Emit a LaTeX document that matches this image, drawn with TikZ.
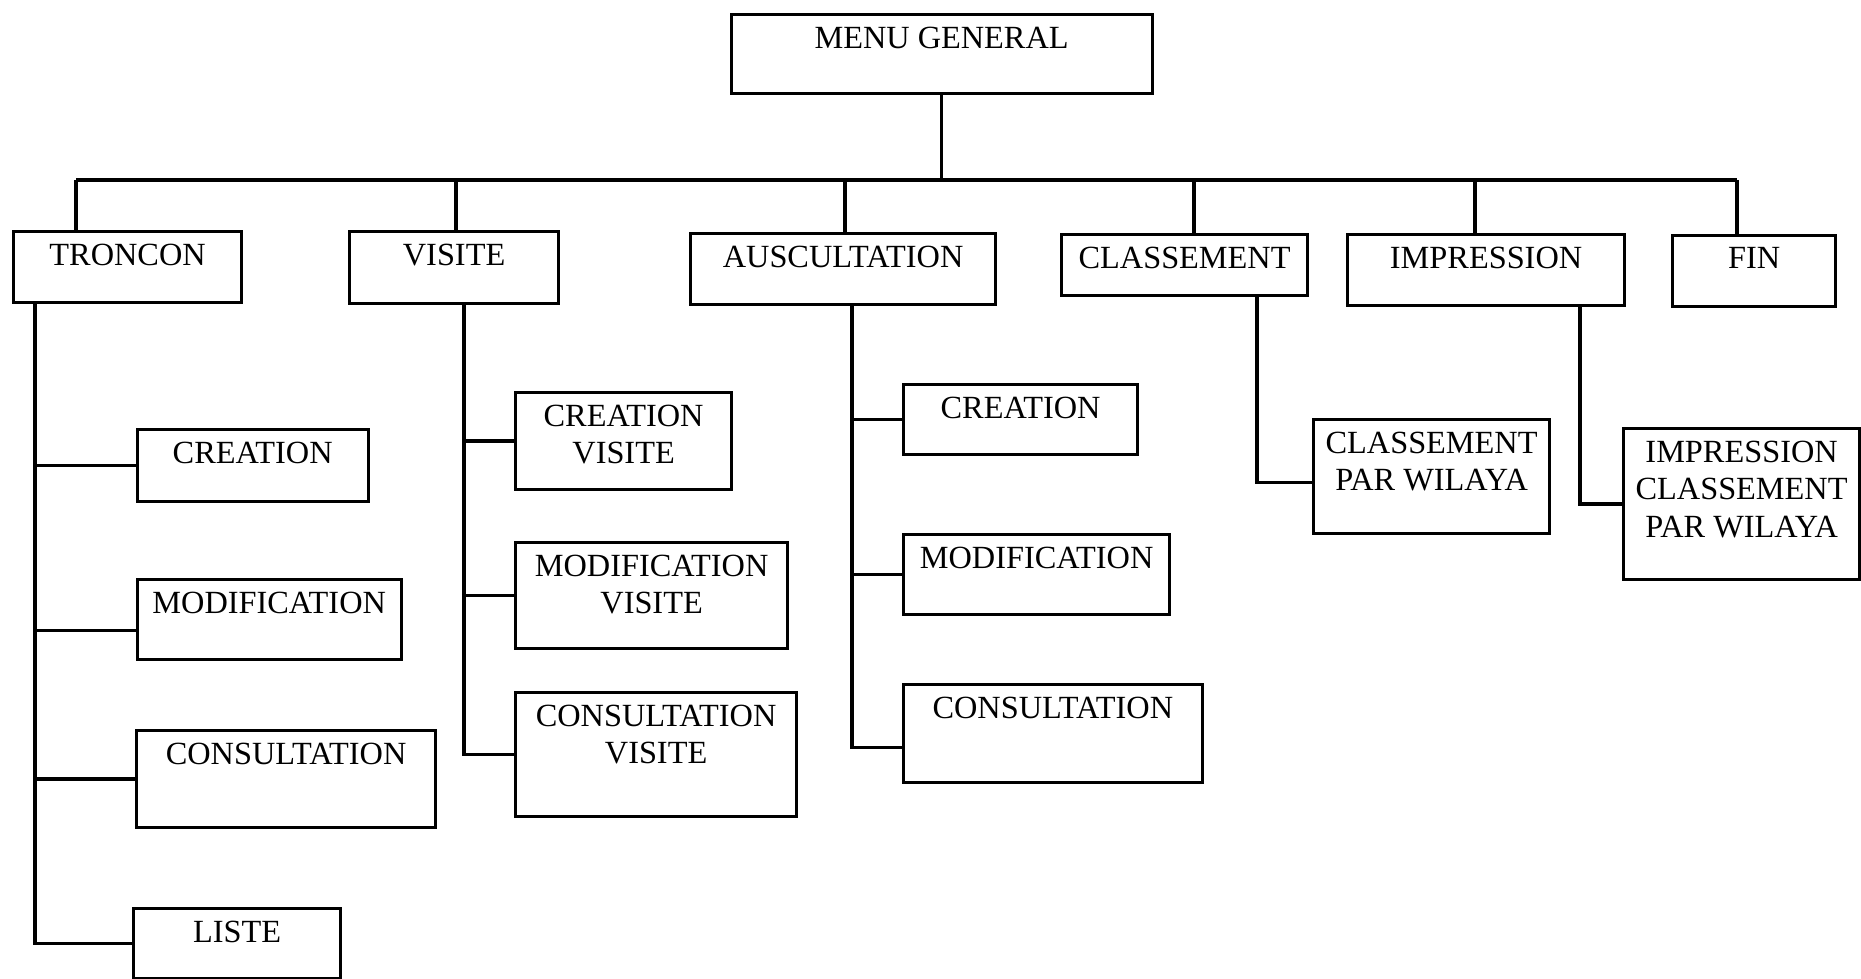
\documentclass[tikz,border=0pt]{standalone}
\usepackage{fontspec}
\setmainfont{Liberation Serif}
\usepackage{tikz}

\tikzset{
	boite/.style={draw, line width=0.9pt, anchor=north west, inner sep=0pt},
	txt/.style={anchor=north, align=center, inner sep=0pt, yshift=-1.3mm, font=\fontsize{9.2}{10.7}\selectfont},
	lien/.style={line width=0.9pt}
}

\begin{document}
\begin{tikzpicture}[x=0.1mm,y=-0.1mm]
	\useasboundingbox (0,0) rectangle (1861,979);
	% menu principal
	\node[boite, minimum width=42.1mm, minimum height=7.9mm, label={[txt]north:MENU GENERAL}] (menu) at (729.5,13) {};
	% premier niveau
	\node[boite, minimum width=22.8mm, minimum height=7.1mm, label={[txt]north:TRONCON}] (troncon) at (12,230) {};
	\node[boite, minimum width=20.9mm, minimum height=7.2mm, label={[txt]north:VISITE}] (visite) at (348,230) {};
	\node[boite, minimum width=30.5mm, minimum height=7.1mm, label={[txt]north:AUSCULTATION}] (auscultation) at (689,232) {};
	\node[boite, minimum width=24.6mm, minimum height=6.1mm, label={[txt]north:CLASSEMENT}] (classement) at (1060,233) {};
	\node[boite, minimum width=27.7mm, minimum height=7.1mm, label={[txt]north:IMPRESSION}] (impression) at (1346,233) {};
	\node[boite, minimum width=16.3mm, minimum height=7.1mm, label={[txt]north:FIN}] (fin) at (1671,234) {};
	% troncon
	\node[boite, minimum width=23.1mm, minimum height=7.2mm, label={[txt]north:CREATION}] (tcrea) at (135.6,428) {};
	\node[boite, minimum width=26.4mm, minimum height=8.0mm, label={[txt]north:MODIFICATION}] (tmodif) at (135.6,578) {};
	\node[boite, minimum width=29.9mm, minimum height=9.7mm, label={[txt]north:CONSULTATION}] (tcons) at (135,729) {};
	\node[boite, minimum width=20.7mm, minimum height=7.0mm, label={[txt]north:LISTE}] (tliste) at (132,907) {};
	% visite
	\node[boite, minimum width=21.6mm, minimum height=9.7mm, label={[txt]north:CREATION\\VISITE}] (vcrea) at (514,391) {};
	\node[boite, minimum width=27.2mm, minimum height=10.6mm, label={[txt]north:MODIFICATION\\VISITE}] (vmodif) at (514,541) {};
	\node[boite, minimum width=28.1mm, minimum height=12.4mm, label={[txt]north:CONSULTATION\\VISITE}] (vcons) at (514,691) {};
	% auscultation
	\node[boite, minimum width=23.4mm, minimum height=7.0mm, label={[txt]north:CREATION}] (acrea) at (902,383) {};
	\node[boite, minimum width=26.6mm, minimum height=8.0mm, label={[txt]north:MODIFICATION}] (amodif) at (902,533) {};
	\node[boite, minimum width=29.85mm, minimum height=9.8mm, label={[txt]north:CONSULTATION}] (acons) at (902,683) {};
	% classement et impression
	\node[boite, minimum width=23.6mm, minimum height=11.4mm, label={[txt]north:CLASSEMENT\\PAR WILAYA}] (cpar) at (1312,418) {};
	\node[boite, minimum width=23.6mm, minimum height=15.1mm, label={[txt]north:IMPRESSION\\CLASSEMENT\\PAR WILAYA}] (ipar) at (1622,427) {};

	% barre horizontale
	\coordinate (b1) at (76,180);
	\coordinate (b2) at (456,180);
	\coordinate (b3) at (845,180);
	\coordinate (b4) at (1194,180);
	\coordinate (b5) at (1475,180);
	\coordinate (b6) at (1737,180);
	\draw[lien] (menu.south) -- (menu.south |- b1);
	\draw[lien] (b1) -- (b6);
	\draw[lien] (b1) -- (b1 |- troncon.north);
	\draw[lien] (b2) -- (b2 |- visite.north);
	\draw[lien] (b3) -- (b3 |- auscultation.north);
	\draw[lien] (b4) -- (b4 |- classement.north);
	\draw[lien] (b5) -- (b5 |- impression.north);
	\draw[lien] (b6) -- (b6 |- fin.north);

	% sous-menus
	\coordinate (tt) at (troncon.south -| 35,0);
	\draw[lien] (tt) |- (tcrea.west);
	\draw[lien] (tt) |- ([yshift=-1.1mm]tmodif.west);
	\draw[lien] (tt) |- (tcons.west);
	\draw[lien] (tt) |- (tliste.west);
	\coordinate (vt) at (visite.south -| 464,0);
	\draw[lien] (vt) |- (vcrea.west);
	\draw[lien] (vt) |- (vmodif.west);
	\draw[lien] (vt) |- (vcons.west);
	\coordinate (at) at (auscultation.south -| 852,0);
	\draw[lien] (at) |- (acrea.west);
	\draw[lien] (at) |- (amodif.west);
	\draw[lien] (at) |- ([yshift=-1.4mm]acons.west);
	\coordinate (ct) at (classement.south -| 1257,0);
	\draw[lien] (ct) |- ([yshift=-0.6mm]cpar.west);
	\coordinate (it) at (impression.south -| 1580,0);
	\draw[lien] (it) |- (ipar.west);
\end{tikzpicture}
\end{document}
